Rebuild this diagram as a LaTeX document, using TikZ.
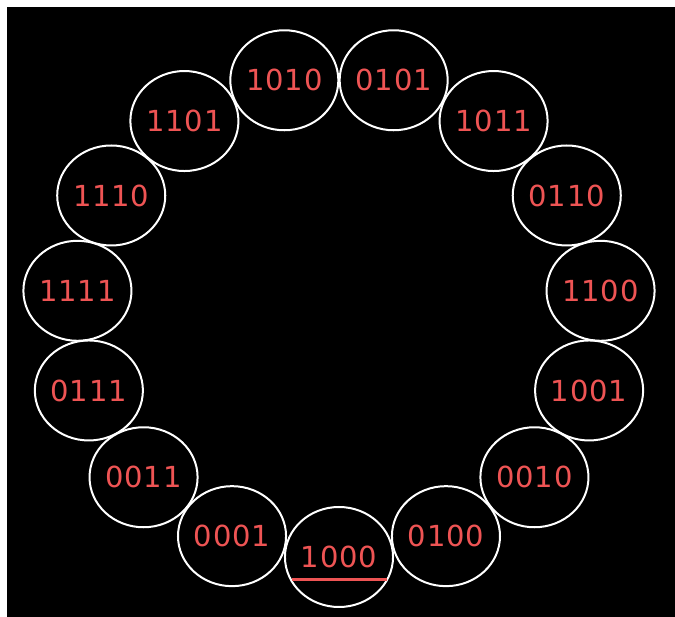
\documentclass[tikz,border=0pt]{standalone}
\usepackage{fontspec}
\newfontfamily\bitfont[LetterSpace=3]{DejaVu Sans}
\usetikzlibrary{shapes.geometric}
\definecolor{bitred}{RGB}{238,84,84}

\begin{document}
\begin{tikzpicture}[
    x=1pt, y=1pt,
    ring/.style={draw=white, ellipse, line width=2pt, minimum width=106pt, minimum height=100pt, inner sep=0pt, text=bitred, font=\bitfont\fontsize{29}{29}\selectfont},
    bar/.style={draw=bitred, line width=3pt}
]

% background and margins
\fill[white] (-339,-301) rectangle (336,316);
\fill[black] (-332,-301) rectangle (336,309);

% register states, starting at the bottom and going round
\foreach \bits [count=\i] in {1000,0100,0010,1001,1100,0110,1011,0101,1010,1101,1110,1111,0111,0011,0001}{
    \pgfmathsetmacro{\ang}{270+24*(\i-1)}
    \node[ring] (s\i) at (\ang:263 and 241) {\bits};
}

% start state is underlined
\draw[bar] ([xshift=-47pt,yshift=-23pt]s1.center) -- ([xshift=48pt,yshift=-23pt]s1.center);

\end{tikzpicture}
\end{document}
